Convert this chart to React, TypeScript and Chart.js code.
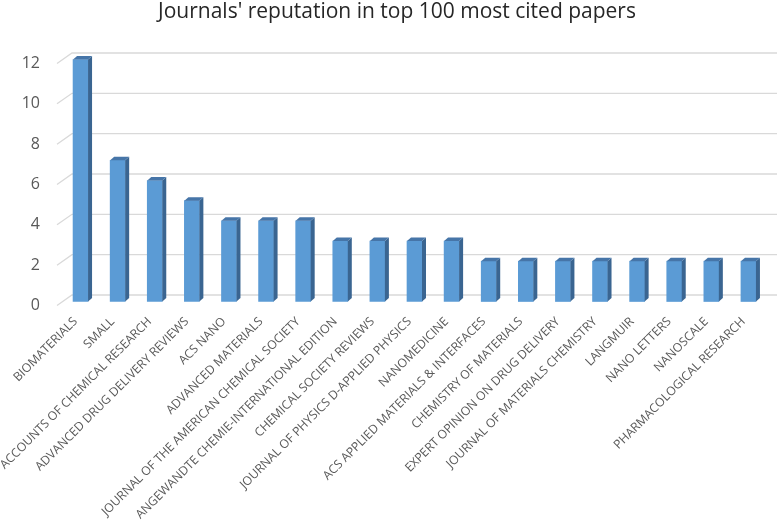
import React, { useEffect, useRef } from "react";
import { Chart, registerables } from "chart.js";

Chart.register(...registerables);

const titleText = "Journals' reputation in top 100 most cited papers";

const journals = [
  "BIOMATERIALS",
  "SMALL",
  "ACCOUNTS OF CHEMICAL RESEARCH",
  "ADVANCED DRUG DELIVERY REVIEWS",
  "ACS NANO",
  "ADVANCED MATERIALS",
  "JOURNAL OF THE AMERICAN CHEMICAL SOCIETY",
  "ANGEWANDTE CHEMIE-INTERNATIONAL EDITION",
  "CHEMICAL SOCIETY REVIEWS",
  "JOURNAL OF PHYSICS D-APPLIED PHYSICS",
  "NANOMEDICINE",
  "ACS APPLIED MATERIALS & INTERFACES",
  "CHEMISTRY OF MATERIALS",
  "EXPERT OPINION ON DRUG DELIVERY",
  "JOURNAL OF MATERIALS CHEMISTRY",
  "LANGMUIR",
  "NANO LETTERS",
  "NANOSCALE",
  "PHARMACOLOGICAL RESEARCH",
];

const paperCounts = [12, 7, 6, 5, 4, 4, 4, 3, 3, 3, 3, 2, 2, 2, 2, 2, 2, 2, 2];

const yMin = 0;
const yMax = 12;
const yStep = 2;

// 3D look (pixel offsets)
const BAR_DX = 5;
const BAR_DY = -4;
const WALL_DX = 15;
const WALL_DY = -10.5;
const DEPTH_X = 4;
const DEPTH_Y = -3.5;

const FRONT = "#5B9BD5";
const SIDE = "#3A6591";
const TOP = "#4675A8";
const GRID = "#D9D9D9";

const threeD = {
  id: "threeD",
  beforeDatasetsDraw(chart: any) {
    const { ctx, chartArea, scales } = chart;
    const y = scales.y;
    ctx.save();
    ctx.strokeStyle = GRID;
    ctx.lineWidth = 1.3;
    for (let v = yMin; v <= yMax; v += yStep) {
      const py = y.getPixelForValue(v);
      ctx.beginPath();
      ctx.moveTo(chartArea.left, py);
      ctx.lineTo(chartArea.left + WALL_DX, py + WALL_DY);
      ctx.lineTo(chartArea.right + WALL_DX, py + WALL_DY);
      ctx.stroke();
    }
    ctx.restore();
    ctx.save();
    ctx.translate(BAR_DX, BAR_DY);
  },
  afterDatasetsDraw(chart: any) {
    const { ctx } = chart;
    const meta = chart.getDatasetMeta(0);
    meta.data.forEach((bar: any) => {
      const { x, y, base, width } = bar.getProps(["x", "y", "base", "width"], true);
      const l = x - width / 2;
      const r = x + width / 2;
      ctx.fillStyle = SIDE;
      ctx.beginPath();
      ctx.moveTo(r, y);
      ctx.lineTo(r + DEPTH_X, y + DEPTH_Y);
      ctx.lineTo(r + DEPTH_X, base + DEPTH_Y);
      ctx.lineTo(r, base);
      ctx.closePath();
      ctx.fill();
      ctx.fillStyle = TOP;
      ctx.beginPath();
      ctx.moveTo(l, y);
      ctx.lineTo(r, y);
      ctx.lineTo(r + DEPTH_X, y + DEPTH_Y);
      ctx.lineTo(l + DEPTH_X, y + DEPTH_Y);
      ctx.closePath();
      ctx.fill();
    });
    ctx.restore();
  },
  afterDraw(chart: any) {
    const { ctx } = chart;
    ctx.save();
    ctx.font = "21px 'Open Sans', sans-serif";
    ctx.fillStyle = "#262626";
    ctx.textAlign = "center";
    ctx.textBaseline = "alphabetic";
    ctx.fillText(titleText, 397, 18);
    ctx.restore();
  },
};

export default function App() {
  const ref = useRef<HTMLCanvasElement | null>(null);
  useEffect(() => {
    if (!ref.current) return;
    const chart = new Chart(ref.current, {
      type: "bar",
      data: {
        labels: journals,
        datasets: [
          {
            data: paperCounts,
            backgroundColor: FRONT,
            borderWidth: 0,
            barThickness: 15,
            clip: false as any,
          },
        ],
      },
      options: {
        animation: false,
        responsive: false,
        maintainAspectRatio: false,
        layout: { padding: { left: 0, right: 16, top: 63.5, bottom: 0 } },
        plugins: {
          legend: { display: false },
          tooltip: { enabled: false },
          title: { display: false },
        },
        scales: {
          x: {
            grid: { display: false, drawTicks: false },
            border: { display: false },
            ticks: {
              autoSkip: false,
              maxRotation: 45,
              minRotation: 45,
              padding: 9,
              color: "#595959",
              font: { family: "'Open Sans', sans-serif", size: 12.2 },
            },
            afterFit(scale: any) {
              scale.height = 219.5;
            },
          },
          y: {
            min: yMin,
            max: yMax,
            grid: { display: false, drawTicks: false },
            border: { display: false },
            ticks: {
              stepSize: yStep,
              padding: 17,
              color: "#595959",
              font: { family: "'Open Sans', sans-serif", size: 16 },
            },
            afterFit(scale: any) {
              scale.width = 57;
            },
          },
        },
      },
      plugins: [threeD],
    });
    return () => chart.destroy();
  }, []);
  return (
    <div style={{ position: "absolute", left: 0, top: 0, width: 778, height: 525, background: "#fff" }}>
      <canvas ref={ref} width={778} height={525} style={{ width: 778, height: 525 }} />
    </div>
  );
}
